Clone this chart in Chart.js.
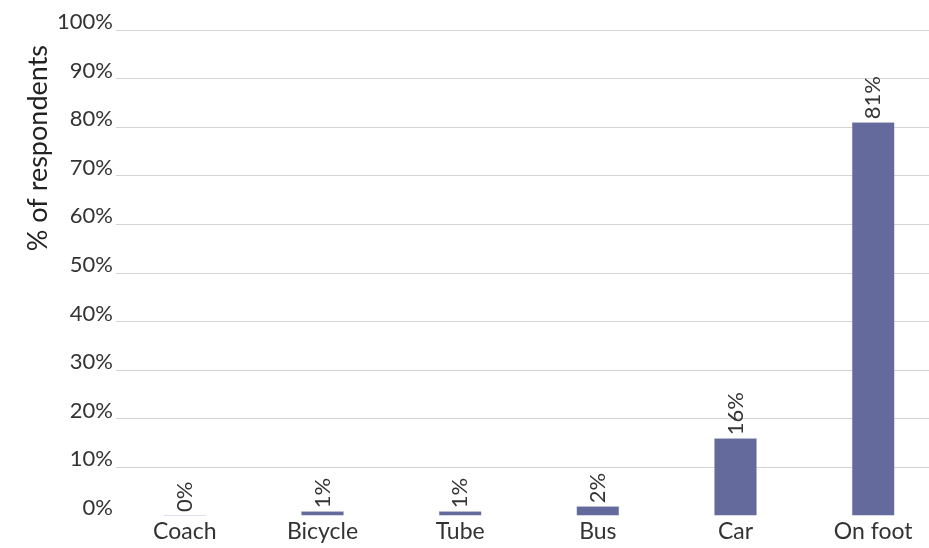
<!DOCTYPE html>
<html>
<head>
<meta charset="utf-8">
<script src="https://cdn.jsdelivr.net/npm/chart.js@4/dist/chart.umd.min.js"></script>
<style>
  html, body { margin: 0; padding: 0; background: #fff; overflow: hidden; }
  #wrap { position: relative; width: 942px; height: 548px; }
</style>
</head>
<body>
<div id="wrap"><canvas id="chart"></canvas></div>
<script>
// Travel mode of respondents
const categories = ['Coach', 'Bicycle', 'Tube', 'Bus', 'Car', 'On foot'];
const shares = [0, 1, 1, 2, 16, 81];
const yTicks = [0, 10, 20, 30, 40, 50, 60, 70, 80, 90, 100];

const FONT = 'Lato, "Open Sans", sans-serif';
const TEXT = '#333333';
const BAR = '#646a9c';

// Value labels written vertically above each bar
const barValueLabels = {
  id: 'barValueLabels',
  afterDatasetsDraw(chart) {
    const ctx = chart.ctx;
    const meta = chart.getDatasetMeta(0);
    ctx.save();
    ctx.font = '22px ' + FONT;
    ctx.fillStyle = TEXT;
    ctx.textAlign = 'left';
    ctx.textBaseline = 'middle';
    meta.data.forEach((bar, i) => {
      ctx.save();
      ctx.translate(bar.x, bar.y - 3);
      ctx.rotate(-Math.PI / 2);
      ctx.fillText(shares[i] + '%', 0, 0);
      ctx.restore();
    });
    ctx.restore();
  }
};

// Vertical axis title, placed toward the top of the axis
const axisTitle = {
  id: 'axisTitle',
  afterDraw(chart) {
    const ctx = chart.ctx;
    const area = chart.chartArea;
    ctx.save();
    ctx.font = '27px ' + FONT;
    ctx.fillStyle = '#222222';
    ctx.textAlign = 'right';
    ctx.textBaseline = 'middle';
    ctx.translate(38, area.top + 15);
    ctx.rotate(-Math.PI / 2);
    ctx.fillText('% of respondents', 0, 0);
    ctx.restore();
  }
};

new Chart(document.getElementById('chart'), {
  type: 'bar',
  data: {
    labels: categories,
    datasets: [{
      data: shares,
      backgroundColor: BAR,
      borderColor: '#7a80ad',
      borderWidth: 0.5,
      barPercentage: 0.31,
      categoryPercentage: 1,
      minBarLength: 1
    }]
  },
  options: {
    responsive: true,
    maintainAspectRatio: false,
    animation: false,
    layout: { padding: { top: 30, left: 0, right: 0, bottom: 0 } },
    plugins: { legend: { display: false }, tooltip: { enabled: false } },
    scales: {
      x: {
        grid: { display: false },
        border: { display: false },
        ticks: {
          color: TEXT,
          font: { family: FONT, size: 23, lineHeight: 1 },
          padding: -4,
          maxRotation: 0
        },
        afterFit(scale) { scale.height = 32; }
      },
      y: {
        min: 0,
        max: 100,
        afterBuildTicks(scale) { scale.ticks = yTicks.map(v => ({ value: v })); },
        grid: {
          drawTicks: false,
          color: c => (c.tick && c.tick.value === 0) ? 'rgba(0,0,0,0)' : '#d4d4d4',
          lineWidth: 1
        },
        border: { display: false },
        ticks: {
          color: TEXT,
          font: { family: FONT, size: 22 },
          padding: 3,
          labelOffset: -8,
          callback: v => v + '%'
        },
        afterFit(scale) { scale.width = 116; }
      }
    }
  },
  plugins: [barValueLabels, axisTitle]
});
</script>
</body>
</html>
